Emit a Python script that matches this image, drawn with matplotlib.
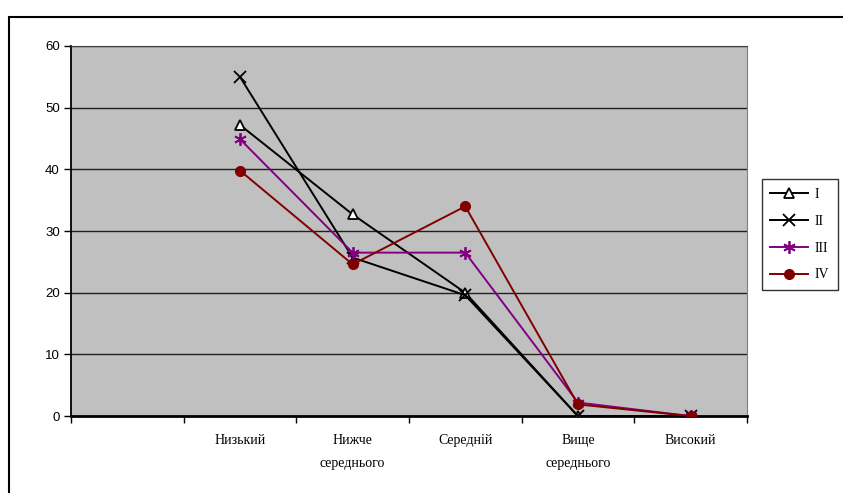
import matplotlib
matplotlib.use("Agg")
import matplotlib.pyplot as plt
import numpy as np

# categories (first slot is empty on the original chart)
categories = ["", "Низький", "Нижче\nсереднього", "Середній", "Вище\nсереднього", "Високий"]
series_names = ["I", "II", "III", "IV"]
s_I = [np.nan, 47.2, 32.7, 20.0, 0.0, 0.0]
s_II = [np.nan, 55.0, 25.7, 19.6, 0.0, 0.0]
s_III = [np.nan, 44.9, 26.5, 26.5, 2.2, 0.0]
s_IV = [np.nan, 39.8, 24.6, 34.0, 1.9, 0.0]
yticks = [0, 10, 20, 30, 40, 50, 60]


def main():
    fig = plt.figure(figsize=(8.43, 4.93), dpi=100)
    fig.patch.set_facecolor("white")

    # outer chart border
    frame = plt.Rectangle((0.011, -0.05), 1.05, 1.015, transform=fig.transFigure,
                          fill=False, edgecolor="black", linewidth=1.5)
    fig.patches.append(frame)

    ax = fig.add_axes([0.0842, 0.156, 0.8018, 0.7507])
    ax.set_facecolor("#c0c0c0")

    x = np.arange(len(categories))
    ax.set_xlim(-0.5, len(categories) - 0.5)
    ax.set_ylim(0, 60)

    for y in yticks[1:]:
        ax.axhline(y, color="#202020", linewidth=1, zorder=1)

    ax.plot(x, s_I, color="black", linewidth=1.4, marker="^", markersize=7,
            markerfacecolor="white", markeredgecolor="black", markeredgewidth=1.3,
            label=series_names[0], zorder=3)
    ax.plot(x, s_II, color="black", linewidth=1.4, marker="x", markersize=9,
            markeredgewidth=1.3, label=series_names[1], zorder=3)
    ax.plot(x, s_III, color="#800080", linewidth=1.4, marker=(6, 2, 0), markersize=9,
            markeredgewidth=1.3, label=series_names[2], zorder=3)
    ax.plot(x, s_IV, color="#800000", linewidth=1.4, marker="o", markersize=7,
            label=series_names[3], zorder=3)

    # y axis
    ax.set_yticks(yticks)
    ax.set_yticklabels([str(v) for v in yticks], family="Liberation Sans", fontsize=9.5)
    ax.tick_params(axis="y", direction="out", length=5, width=1, pad=3)

    # x axis: ticks at category borders, labels at centres
    ax.set_xticks(np.arange(-0.5, len(categories), 1.0))
    ax.set_xticklabels([])
    ax.tick_params(axis="x", which="major", direction="out", length=5, width=1)
    ax.set_xticks(x, minor=True)
    ax.set_xticklabels(categories, minor=True, family="Liberation Serif",
                       fontsize=10, linespacing=2.0, va="top")
    ax.tick_params(axis="x", which="minor", length=0, pad=13)

    for side in ["left", "bottom"]:
        ax.spines[side].set_color("black")
    ax.spines["left"].set_linewidth(1.3)
    ax.spines["bottom"].set_linewidth(2)
    ax.spines["top"].set_color("#404040")
    ax.spines["right"].set_color("#808080")

    leg = fig.legend(loc="upper left", bbox_to_anchor=(0.904, 0.636),
                     prop={"family": "Liberation Serif", "size": 10},
                     frameon=True, fancybox=False, edgecolor="black",
                     handlelength=2.7, handletextpad=0.5, labelspacing=1.0,
                     borderpad=0.6, borderaxespad=0)
    leg.get_frame().set_linewidth(1)

    fig.savefig("out.png", dpi=100)


if __name__ == "__main__":
    main()
